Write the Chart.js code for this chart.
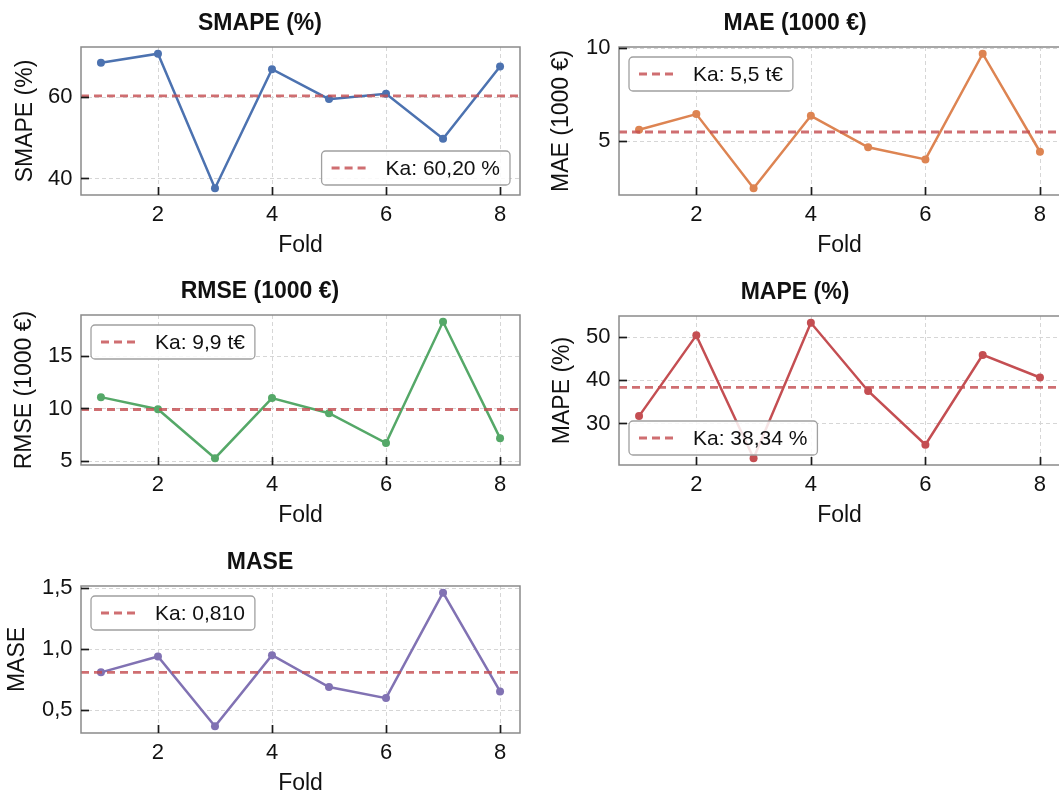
<!DOCTYPE html>
<html>
<head>
<meta charset="utf-8">
<title>Kreuzvalidierung – Fehlermaße je Fold</title>
<script src="https://cdn.jsdelivr.net/npm/chart.js@4.4.1/dist/chart.umd.min.js"></script>
<style>
  html, body { margin: 0; padding: 0; background: #fff; overflow: hidden; }
  #page { position: relative; width: 1059px; height: 796px; overflow: hidden; background: #fff; }
  #page canvas { position: absolute; }
</style>
</head>
<body>
<div id="page"></div>
<script>
const FONT = '"Liberation Sans", Arial, Helvetica, sans-serif';
const TEXT = '#111';

// folds on the x axis
const folds = [1, 2, 3, 4, 5, 6, 7, 8];
const foldTicks = [2, 4, 6, 8];

// SMAPE (%)
const smapeValues = [68.3, 70.5, 37.6, 66.7, 59.4, 60.7, 49.7, 67.4];
const smapeKa = 60.20;
const smapeTicks = [40, 60];

// MAE (1000 €)
const maeValues = [5.62, 6.46, 2.48, 6.37, 4.68, 4.03, 9.70, 4.44];
const maeKa = 5.5;
const maeTicks = [5, 10];

// RMSE (1000 €)
const rmseValues = [11.08, 9.93, 5.26, 10.99, 9.55, 6.70, 18.26, 7.17];
const rmseKa = 9.9;
const rmseTicks = [5, 10, 15];

// MAPE (%)
const mapeValues = [31.7, 50.3, 22.0, 53.2, 37.5, 25.1, 45.8, 40.6];
const mapeKa = 38.34;
const mapeTicks = [30, 40, 50];

// MASE
const maseValues = [0.81, 0.94, 0.37, 0.95, 0.69, 0.60, 1.46, 0.655];
const maseKa = 0.810;
const maseTicks = [0.5, 1.0, 1.5];

// decimal comma
function fmt(v, d) {
  return v.toFixed(d).replace('.', ',');
}

// area = [left, top, right, bottom] of the plot box on the page
const panels = [
  { title: 'SMAPE (%)', values: smapeValues, ka: smapeKa, kaDigits: 2, kaUnit: ' %', ticks: smapeTicks, tickDigits: 0,
    color: '#4C72B0', legendAt: 'lower right', left: 0, area: [81, 47, 520, 195], yTitleX: 26 },
  { title: 'MAE (1000 €)', values: maeValues, ka: maeKa, kaDigits: 1, kaUnit: ' t€', ticks: maeTicks, tickDigits: 0,
    color: '#DD8452', legendAt: 'upper left', left: 530, area: [619, 47, 1060, 195], yTitleX: 32 },
  { title: 'RMSE (1000 €)', values: rmseValues, ka: rmseKa, kaDigits: 1, kaUnit: ' t€', ticks: rmseTicks, tickDigits: 0,
    color: '#55A868', legendAt: 'upper left', left: 0, area: [81, 315, 520, 465], yTitleX: 25 },
  { title: 'MAPE (%)', values: mapeValues, ka: mapeKa, kaDigits: 2, kaUnit: ' %', ticks: mapeTicks, tickDigits: 0,
    color: '#C44E52', legendAt: 'lower left', left: 530, area: [619, 316, 1060, 465], yTitleX: 33 },
  { title: 'MASE', values: maseValues, ka: maseKa, kaDigits: 3, kaUnit: '', ticks: maseTicks, tickDigits: 1,
    color: '#8172B3', legendAt: 'upper left', left: 0, area: [81, 586, 520, 733], yTitleX: 18 }
];

function seg(ctx, x1, y1, x2, y2) {
  ctx.beginPath();
  ctx.moveTo(x1, y1);
  ctx.lineTo(x2, y2);
  ctx.stroke();
}

function roundBox(ctx, x, y, w, h, r) {
  ctx.beginPath();
  ctx.moveTo(x + r, y);
  ctx.arcTo(x + w, y, x + w, y + h, r);
  ctx.arcTo(x + w, y + h, x, y + h, r);
  ctx.arcTo(x, y + h, x, y, r);
  ctx.arcTo(x, y, x + w, y, r);
  ctx.closePath();
}

// grid, Ka reference line, frame with inward ticks and the legend box
const decor = {
  id: 'decor',
  beforeDatasetsDraw(chart, args, o) {
    const { ctx, chartArea: a, scales: { x, y } } = chart;
    ctx.save();
    ctx.strokeStyle = '#d6d6d6';
    ctx.lineWidth = 1;
    ctx.setLineDash([4, 3]);
    foldTicks.forEach(v => {
      const px = Math.round(x.getPixelForValue(v)) + 0.5;
      seg(ctx, px, a.top, px, a.bottom);
    });
    o.ticks.forEach(v => {
      const py = Math.round(y.getPixelForValue(v)) + 0.5;
      seg(ctx, a.left, py, a.right, py);
    });
    ctx.restore();
  },
  afterDatasetsDraw(chart, args, o) {
    const { ctx, chartArea: a, scales: { x, y } } = chart;

    // Ka line
    ctx.save();
    ctx.beginPath();
    ctx.rect(a.left, a.top, a.width, a.height);
    ctx.clip();
    ctx.strokeStyle = 'rgba(196, 78, 82, 0.82)';
    ctx.lineWidth = 2.8;
    ctx.setLineDash([8, 5]);
    const ky = y.getPixelForValue(o.ka);
    seg(ctx, a.left, ky, a.right, ky);
    ctx.restore();

    // frame
    ctx.save();
    ctx.strokeStyle = '#8a8a8a';
    ctx.lineWidth = 1.5;
    ctx.strokeRect(a.left, a.top, a.width, a.height);

    // inward ticks on left and bottom
    ctx.strokeStyle = '#1a1a1a';
    ctx.lineWidth = 1.7;
    foldTicks.forEach(v => {
      const px = Math.round(x.getPixelForValue(v)) + 0.5;
      seg(ctx, px, a.bottom, px, a.bottom - 8);
    });
    o.ticks.forEach(v => {
      const py = Math.round(y.getPixelForValue(v)) + 0.5;
      seg(ctx, a.left, py, a.left + 8, py);
    });

    // legend
    ctx.font = '21px ' + FONT;
    const tw = ctx.measureText(o.label).width;
    const w = 10 + 38 + 16 + tw + 10, h = 34, gap = 10;
    const lx = o.corner.includes('left') ? a.left + gap : a.right - gap - w;
    const ly = o.corner.includes('upper') ? a.top + gap : a.bottom - gap - h;
    roundBox(ctx, lx, ly, w, h, 4);
    ctx.fillStyle = 'rgba(255, 255, 255, 0.85)';
    ctx.fill();
    ctx.strokeStyle = '#a0a0a0';
    ctx.lineWidth = 1.3;
    ctx.stroke();
    ctx.strokeStyle = 'rgba(196, 78, 82, 0.82)';
    ctx.lineWidth = 2.8;
    ctx.setLineDash([8, 5]);
    seg(ctx, lx + 10, ly + h / 2, lx + 48, ly + h / 2);
    ctx.setLineDash([]);
    ctx.fillStyle = TEXT;
    ctx.textBaseline = 'middle';
    ctx.textAlign = 'left';
    ctx.fillText(o.label, lx + 64, ly + h / 2 + 1);
    ctx.restore();
  }
};

const page = document.getElementById('page');

panels.forEach(p => {
  const [l, t, r, b] = p.area;
  const top = t - 47, padR = 6;
  const w = r - p.left + padR, h = b + 70 - top;
  const canvas = document.createElement('canvas');
  canvas.width = w;
  canvas.height = h;
  canvas.style.left = p.left + 'px';
  canvas.style.top = top + 'px';
  canvas.style.width = w + 'px';
  canvas.style.height = h + 'px';
  page.appendChild(canvas);

  const lo = Math.min(...p.values), hi = Math.max(...p.values);
  const m = (hi - lo) * 0.05;
  const font = { family: FONT, size: 22 };
  const labelFont = { family: FONT, size: 23 };

  new Chart(canvas, {
    type: 'line',
    data: {
      datasets: [{
        data: folds.map((f, i) => ({ x: f, y: p.values[i] })),
        borderColor: p.color,
        backgroundColor: p.color,
        borderWidth: 2.5,
        pointRadius: 4,
        pointHoverRadius: 4,
        pointBorderWidth: 0,
        pointBackgroundColor: p.color,
        tension: 0,
        clip: false
      }]
    },
    options: {
      responsive: false,
      animation: false,
      events: [],
      layout: { padding: { left: 0, top: 0, right: padR, bottom: 0 } },
      plugins: {
        legend: { display: false },
        tooltip: { enabled: false },
        title: {
          display: true,
          text: p.title,
          color: TEXT,
          font: { family: FONT, size: 23, weight: 'bold', lineHeight: 1.2 },
          padding: { top: 10, bottom: 9.4 }
        },
        decor: {
          ka: p.ka,
          label: 'Ka: ' + fmt(p.ka, p.kaDigits) + p.kaUnit,
          ticks: p.ticks,
          corner: p.legendAt
        }
      },
      scales: {
        x: {
          type: 'linear',
          min: 0.65,
          max: 8.35,
          afterBuildTicks: s => { s.ticks = foldTicks.map(v => ({ value: v })); },
          afterFit: s => { s.height = 70; },
          grid: { display: false, drawTicks: false },
          border: { display: false },
          ticks: { autoSkip: false, maxRotation: 0, padding: 7, color: TEXT, font, callback: v => String(v) },
          title: { display: true, text: 'Fold', color: TEXT, font: labelFont, padding: { top: 0, bottom: 6 } }
        },
        y: {
          type: 'linear',
          min: lo - m,
          max: hi + m,
          afterBuildTicks: s => { s.ticks = p.ticks.map(v => ({ value: v })); },
          afterFit: s => { s.width = l - p.left; },
          grid: { display: false, drawTicks: false },
          border: { display: false },
          ticks: { autoSkip: false, padding: 8.5, color: TEXT, font, callback: v => fmt(v, p.tickDigits) },
          title: { display: true, text: p.title, color: TEXT, font: labelFont, padding: { top: p.yTitleX - 13.8, bottom: 0 } }
        }
      }
    },
    plugins: [decor]
  });
});
</script>
</body>
</html>
